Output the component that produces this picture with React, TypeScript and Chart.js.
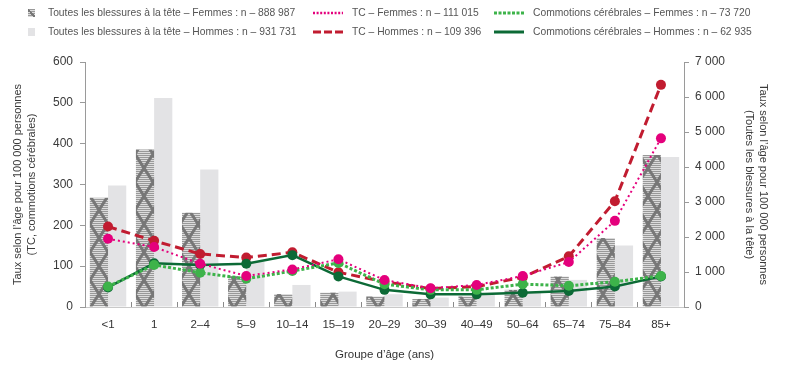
import React, { useEffect, useRef } from 'react';
import { Chart, registerables } from 'chart.js';

Chart.register(...registerables);

const categories = ['<1', '1', '2–4', '5–9', '10–14', '15–19', '20–29', '30–39', '40–49', '50–64', '65–74', '75–84', '85+'];

// Toutes les blessures à la tête (axe de droite)
const toutesFemmes = [3120, 4500, 2690, 880, 370, 410, 300, 230, 300, 490, 870, 1970, 4340];
const toutesHommes = [3470, 5970, 3930, 1300, 630, 440, 365, 270, 345, 420, 775, 1760, 4285];

// TC et commotions (axe de gauche)
const tcFemmes = [167, 147, 106, 76, 92, 117, 66, 46, 54, 76, 110, 211, 413];
const tcHommes = [197, 162, 130, 121, 134, 85, 62, 45, 50, 73, 124, 259, 544];
const commotionsFemmes = [50, 103, 84, 69, 88, 108, 56, 42, 42, 56, 52, 62, 76];
const commotionsHommes = [48, 107, 103, 106, 127, 75, 42, 31, 31, 35, 39, 50, 75];

const legendLabels = [
  'Toutes les blessures à la tête – Femmes : n – 888 987',
  'Toutes les blessures à la tête – Hommes : n – 931 731',
  'TC – Femmes : n – 111 015',
  'TC – Hommes : n – 109 396',
  'Commotions cérébrales – Femmes : n – 73 720',
  'Commotions cérébrales – Hommes : n – 62 935',
];

const leftTitle = ['Taux selon l’âge pour 100 000 personnes', '(TC, commotions cérébrales)'];
const rightTitle = ['Taux selon l’âge pour 100 000 personnes', '(Toutes les blessures à la tête)'];
const xTitle = 'Groupe d’âge (ans)';

const FONT = '"Liberation Sans", Arial, sans-serif';
const PINK = '#e4007c';
const RED = '#c11c30';
const LGREEN = '#3db34a';
const DGREEN = '#0c6a36';
const MALE_GREY = '#e3e3e5';

function makePattern(ctx: CanvasRenderingContext2D): CanvasPattern | string {
  const w = 18, h = 28;
  const c = document.createElement('canvas');
  c.width = w; c.height = h;
  const p = c.getContext('2d');
  if (!p) return '#999';
  p.fillStyle = '#999999';
  p.fillRect(0, 0, w, h);
  p.fillStyle = '#dcdcdc';
  for (let y = 0; y < h; y += 2) p.fillRect(0, y, w, 1);
  p.strokeStyle = '#777777';
  p.lineWidth = 3;
  for (let k = -1; k <= 1; k++) {
    p.beginPath();
    p.moveTo(k * w, 0); p.lineTo(k * w + w, h);
    p.moveTo(k * w + w, 0); p.lineTo(k * w, h);
    p.stroke();
  }
  return ctx.createPattern(c, 'repeat') || '#999';
}

const fmtSpace = (v: number) => String(v).replace(/\B(?=(\d{3})+(?!\d))/g, ' ');

function LineSample({ color, width, dash }: { color: string; width: number; dash?: string }) {
  return (
    <svg width={30} height={6} style={{ display: 'block' }}>
      <line x1={0} y1={3} x2={30} y2={3} stroke={color} strokeWidth={width} strokeDasharray={dash} />
    </svg>
  );
}

export default function App() {
  const ref = useRef<HTMLCanvasElement>(null);

  useEffect(() => {
    const canvas = ref.current;
    if (!canvas) return;
    const ctx = canvas.getContext('2d');
    if (!ctx) return;
    const pattern = makePattern(ctx);
    const tickFont = { family: FONT, size: 12 };
    const chart = new Chart(ctx, {
      type: 'bar',
      data: {
        labels: categories,
        datasets: [
          {
            type: 'line', label: legendLabels[3], data: tcHommes, yAxisID: 'y',
            borderColor: RED, backgroundColor: RED, borderWidth: 3, borderDash: [9, 5],
            pointRadius: 5, pointBorderWidth: 0, order: 5,
          },
          {
            type: 'line', label: legendLabels[5], data: commotionsHommes, yAxisID: 'y',
            borderColor: DGREEN, backgroundColor: DGREEN, borderWidth: 2.5,
            pointRadius: 5, pointBorderWidth: 0, order: 4,
          },
          {
            type: 'line', label: legendLabels[4], data: commotionsFemmes, yAxisID: 'y',
            borderColor: LGREEN, backgroundColor: LGREEN, borderWidth: 3, borderDash: [3, 2],
            pointRadius: 5, pointBorderWidth: 0, order: 3,
          },
          {
            type: 'line', label: legendLabels[2], data: tcFemmes, yAxisID: 'y',
            borderColor: PINK, backgroundColor: PINK, borderWidth: 2, borderDash: [2, 3],
            pointRadius: 5, pointBorderWidth: 0, order: 2,
          },
          {
            type: 'bar', label: legendLabels[0], data: toutesFemmes, yAxisID: 'y2',
            backgroundColor: pattern as any, borderWidth: 0, order: 10,
          },
          {
            type: 'bar', label: legendLabels[1], data: toutesHommes, yAxisID: 'y2',
            backgroundColor: MALE_GREY, borderWidth: 0, order: 10,
          },
        ] as any,
      },
      options: {
        responsive: false,
        animation: false,
        devicePixelRatio: 1,
        layout: { padding: { top: 62, left: 0, right: 0, bottom: 0 } },
        plugins: { legend: { display: false }, tooltip: { enabled: false } },
        datasets: { bar: { categoryPercentage: 0.79, barPercentage: 1 } },
        scales: {
          x: {
            grid: { offset: true, drawOnChartArea: false, drawTicks: true, tickLength: -5, color: '#8a8a8a' },
            border: { display: true, color: '#c9c9c9' },
            ticks: { color: '#333', font: { family: FONT, size: 11.5 }, padding: 16, maxRotation: 0, autoSkip: false },
            title: {
              display: true, text: xTitle, color: '#333',
              font: { family: FONT, size: 11.5, lineHeight: 1.2 }, padding: { top: 0, bottom: 8 },
            },
            afterFit: (s: any) => { s.height = 63; },
          },
          y: {
            position: 'left', min: 0, max: 600,
            ticks: { stepSize: 100, color: '#3a3a3a', font: tickFont, padding: 7 },
            grid: { drawOnChartArea: false, drawTicks: true, tickLength: 5, color: '#9a9a9a' },
            border: { display: true, color: '#9a9a9a' },
            title: {
              display: true, text: leftTitle, color: '#3a3a3a',
              font: { family: FONT, size: 11, lineHeight: 1.27 }, padding: { top: 11, bottom: 0 },
            },
            afterFit: (s: any) => { s.width = 85; },
          },
          y2: {
            position: 'right', min: 0, max: 7000,
            ticks: { stepSize: 1000, color: '#3a3a3a', font: tickFont, padding: 6, callback: (v: any) => fmtSpace(Number(v)) },
            grid: { drawOnChartArea: false, drawTicks: true, tickLength: 5, color: '#9a9a9a' },
            border: { display: true, color: '#9a9a9a' },
            title: {
              display: true, text: rightTitle, color: '#3a3a3a',
              font: { family: FONT, size: 11, lineHeight: 1.27 }, padding: { top: 19, bottom: 0 },
            },
            afterFit: (s: any) => { s.width = 105; },
          },
        },
      } as any,
    });
    return () => chart.destroy();
  }, []);

  const textStyle: React.CSSProperties = {
    position: 'absolute', fontFamily: FONT, fontSize: 10.3, color: '#555', lineHeight: '14px', whiteSpace: 'nowrap',
  };
  const rows = [6, 25];

  return (
    <div style={{ position: 'absolute', left: 0, top: 0, width: 789, height: 370, background: '#fff' }}>
      <canvas ref={ref} width={789} height={370} style={{ position: 'absolute', left: 0, top: 0, width: 789, height: 370 }} />
      {/* column 1: bars */}
      <div style={{
        position: 'absolute', left: 28, top: rows[0] + 3, width: 7, height: 8,
        background: 'linear-gradient(45deg, transparent 40%, #777 40% 60%, transparent 60%), repeating-linear-gradient(0deg,#dcdcdc 0 1px,#999 1px 2px)',
      }} />
      <div style={{ ...textStyle, left: 48, top: rows[0] }}>{legendLabels[0]}</div>
      <div style={{ position: 'absolute', left: 28, top: rows[1] + 3, width: 7, height: 8, background: MALE_GREY }} />
      <div style={{ ...textStyle, left: 48, top: rows[1] }}>{legendLabels[1]}</div>
      {/* column 2: TC */}
      <div style={{ position: 'absolute', left: 313, top: rows[0] + 4 }}><LineSample color={PINK} width={2.5} dash="2 1.6" /></div>
      <div style={{ ...textStyle, left: 352, top: rows[0] }}>{legendLabels[2]}</div>
      <div style={{ position: 'absolute', left: 313, top: rows[1] + 4 }}><LineSample color={RED} width={3} dash="8 3" /></div>
      <div style={{ ...textStyle, left: 352, top: rows[1] }}>{legendLabels[3]}</div>
      {/* column 3: commotions */}
      <div style={{ position: 'absolute', left: 494, top: rows[0] + 4 }}><LineSample color={LGREEN} width={3} dash="3 1.5" /></div>
      <div style={{ ...textStyle, left: 533, top: rows[0] }}>{legendLabels[4]}</div>
      <div style={{ position: 'absolute', left: 494, top: rows[1] + 4 }}><LineSample color={DGREEN} width={3} /></div>
      <div style={{ ...textStyle, left: 533, top: rows[1] }}>{legendLabels[5]}</div>
    </div>
  );
}
